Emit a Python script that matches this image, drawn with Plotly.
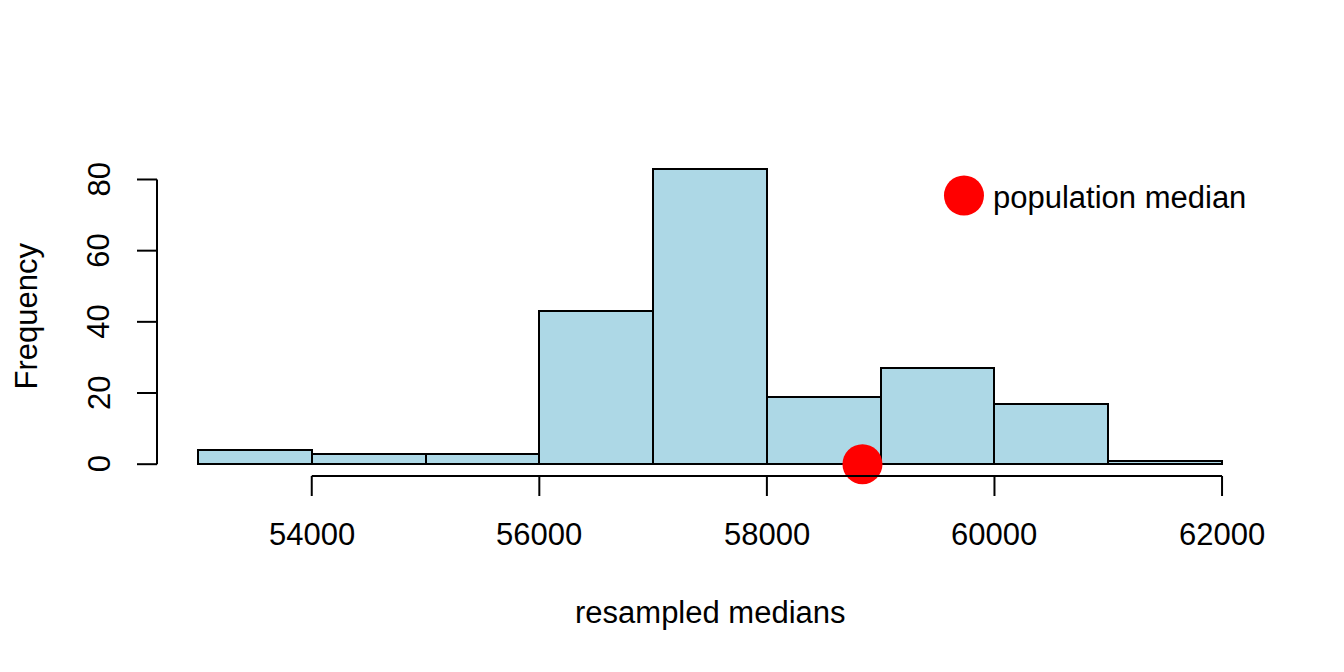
import plotly.graph_objects as go

# ---- data ----
breaks = [53000, 54000, 55000, 56000, 57000, 58000, 59000, 60000, 61000, 62000]
counts = [4, 3, 3, 43, 83, 19, 27, 17, 1]
population_median = 58840
x_ticks = [54000, 56000, 58000, 60000, 62000]
y_ticks = [0, 20, 40, 60, 80]
legend_label = "population median"

# ---- layout constants ----
FONT = "Liberation Sans, Arial, sans-serif"
FS = 31
LW = 2
TICK = 20
x_pad = 0.04 * (breaks[-1] - breaks[0])
y_pad = 0.04 * max(counts)
x_range = [breaks[0] - x_pad, breaks[-1] + x_pad]
y_range = [-y_pad, max(counts) + y_pad]
legend_dot = (59732, 75.5)
legend_text_x = 59970

mids = [(a + b) / 2 for a, b in zip(breaks[:-1], breaks[1:])]
widths = [b - a for a, b in zip(breaks[:-1], breaks[1:])]

fig = go.Figure()
fig.add_trace(go.Bar(
    x=mids, y=counts, width=widths,
    marker=dict(color="#ADD8E6", line=dict(color="black", width=LW)),
    showlegend=False, hoverinfo="skip",
))
fig.add_trace(go.Scatter(
    x=[population_median], y=[0], mode="markers",
    marker=dict(color="red", size=40, line=dict(width=0)),
    showlegend=False, cliponaxis=False,
))
fig.add_trace(go.Scatter(
    x=[legend_dot[0]], y=[legend_dot[1]], mode="markers",
    marker=dict(color="red", size=40, line=dict(width=0)),
    showlegend=False, cliponaxis=False,
))

shapes = []
annotations = []
# x axis line, ticks and labels (R style)
shapes.append(dict(type="line", xref="x", yref="paper", x0=x_ticks[0], x1=x_ticks[-1],
                   y0=0, y1=0, line=dict(color="black", width=LW)))
for t in x_ticks:
    shapes.append(dict(type="line", xref="x", yref="paper", x0=t, x1=t, y0=0, y1=-TICK,
                       ysizemode="pixel", yanchor=0, line=dict(color="black", width=LW)))
    annotations.append(dict(x=t, y=0, xref="x", yref="paper", text=str(t), showarrow=False,
                            xanchor="center", yanchor="middle", yshift=-58,
                            font=dict(family=FONT, size=FS, color="black")))
# y axis line, ticks and labels
shapes.append(dict(type="line", xref="paper", yref="y", x0=0, x1=0,
                   y0=y_ticks[0], y1=y_ticks[-1], line=dict(color="black", width=LW)))
for t in y_ticks:
    shapes.append(dict(type="line", xref="paper", yref="y", x0=0, x1=-TICK, y0=t, y1=t,
                       xsizemode="pixel", xanchor=0, line=dict(color="black", width=LW)))
    annotations.append(dict(x=0, y=t, xref="paper", yref="y", text=str(t), showarrow=False,
                            xanchor="center", yanchor="middle", xshift=-58, textangle=-90,
                            font=dict(family=FONT, size=FS, color="black")))

# titles
annotations.append(dict(x=0.5, y=0, xref="paper", yref="paper", text="resampled medians",
                        showarrow=False, xanchor="center", yanchor="middle", yshift=-136,
                        font=dict(family=FONT, size=FS, color="black")))
annotations.append(dict(x=0, y=0.5, xref="paper", yref="paper", text="Frequency",
                        showarrow=False, xanchor="center", yanchor="middle", xshift=-131,
                        textangle=-90, font=dict(family=FONT, size=FS, color="black")))
# legend text
annotations.append(dict(x=legend_text_x, y=legend_dot[1], xref="x", yref="y", text=legend_label,
                        showarrow=False, xanchor="left", yanchor="middle", yshift=-2,
                        font=dict(family=FONT, size=FS, color="black")))

# page has an 8px body margin, compensate so the plot lands where the reference has it
fig.update_layout(
    width=1344, height=672,
    margin=dict(l=149, r=89, t=149, b=204, pad=0),
    paper_bgcolor="white", plot_bgcolor="white",
    xaxis=dict(range=x_range, visible=False, fixedrange=True),
    yaxis=dict(range=y_range, visible=False, fixedrange=True),
    shapes=shapes, annotations=annotations,
    bargap=0, showlegend=False,
)
fig.write_html("out.html")
